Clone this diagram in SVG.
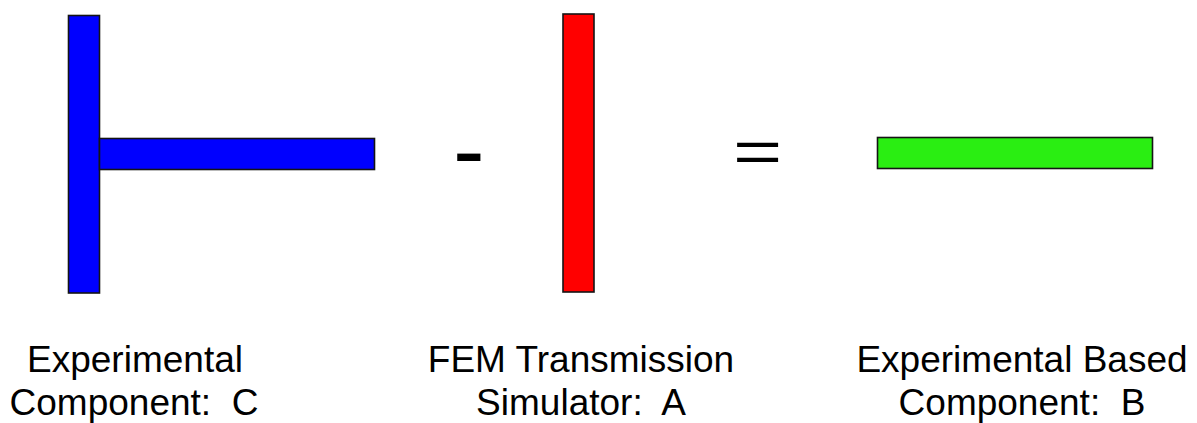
<svg xmlns="http://www.w3.org/2000/svg" width="1197" height="423" viewBox="0 0 1197 423">
<style>
.bar{stroke:#141414;stroke-width:1.6}
.lbl{font-family:"Liberation Sans",Arial,sans-serif;font-size:37px;fill:#000;text-anchor:middle;white-space:pre}
.op{font-family:"Liberation Sans",Arial,sans-serif;fill:#000}
</style>
<rect width="1197" height="423" fill="#fff"/>
<g id="nodeC">
<rect class="bar" x="68.5" y="15.5" width="31" height="277.5" fill="#0000FF"/>
<rect class="bar" x="99.5" y="138.5" width="275" height="31" fill="#0000FF"/>
<text class="lbl" x="135" y="372">Experimental</text>
<text class="lbl" x="134" y="414.5" xml:space="preserve">Component:  C</text>
</g>
<g id="minus">
<text class="op" x="453" y="182" font-size="95">-</text>
</g>
<g id="nodeA">
<rect class="bar" x="563" y="14" width="31" height="278" fill="#FF0000"/>
<text class="lbl" x="581" y="372">FEM Transmission</text>
<text class="lbl" x="581" y="414.5" xml:space="preserve">Simulator:  A</text>
</g>
<g id="equals">
<text class="op" font-size="59" transform="translate(733,171.5) scale(1.43,1)">=</text>
</g>
<g id="nodeB">
<rect class="bar" x="877.5" y="137.5" width="275" height="31" fill="#2AEE12"/>
<text class="lbl" x="1022" y="372">Experimental Based</text>
<text class="lbl" x="1022" y="414.5" xml:space="preserve">Component:  B</text>
</g>
<g id="connectors"></g>
</svg>
